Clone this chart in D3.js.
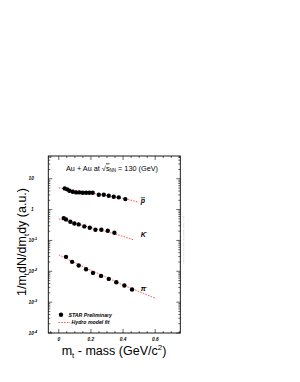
<!DOCTYPE html>
<html><head><meta charset="utf-8">
<script src="https://cdn.jsdelivr.net/npm/d3@7"></script>
<style>body{margin:0;background:#fff}svg{display:block}</style>
</head><body>
<svg id="c" width="300" height="382"></svg>
<script>
// ---- data ----
const pbarX = [0.037,0.052,0.066,0.087,0.108,0.128,0.149,0.170,0.190,0.211,0.249,0.280,0.311,0.342,0.373,0.414];
const pbarY = [4.87,4.53,4.07,3.78,3.61,3.61,3.51,3.51,3.51,3.51,3.03,3.03,2.81,2.61,2.49,2.19];
const kX = [0.031,0.045,0.072,0.097,0.124,0.159,0.193,0.228,0.265,0.305,0.346];
const kY = [0.530,0.481,0.402,0.356,0.331,0.285,0.257,0.221,0.221,0.205,0.177];
const piX = [0.045,0.083,0.124,0.170,0.213,0.263,0.311,0.358,0.408,0.456];
const piY = [0.0294,0.0202,0.0154,0.0117,0.00887,0.00709,0.00567,0.00443,0.00346,0.00257];
const pbarFitX = [0,0.1,0.2,0.3,0.4,0.495];
const pbarFitY = [5.1,4.2,3.45,2.85,2.3,1.75];
const kFitX = [0,0.1,0.2,0.3,0.4,0.464];
const kFitY = [0.50,0.36,0.26,0.19,0.135,0.105];
const piFitX = [0,0.1,0.2,0.3,0.4,0.5,0.605];
const piFitY = [0.034,0.019,0.0108,0.0063,0.0036,0.0022,0.0013];
const xTicks = [0,0.2,0.4,0.6];
const xTickLabels = ["0","0.2","0.4","0.6"];
const yTicks = [10,1,0.1,0.01,0.001,0.0001];
const yTickBase = ["10","1","10","10","10","10"];
const yTickExp = ["","","-1","-2","-3","-4"];
const seriesLabels = [["p","",1.9],["K","-",0.16],["π","-",0.0027]];
const seriesLabelX = 0.51;

// ---- layout ----
const L=48.3,R=180.3,T=156,B=333;
const svg=d3.select("#c");
const x=d3.scaleLinear().domain([-0.065,0.756]).range([L,R]);
const y=d3.scaleLog().domain([1e-4,Math.pow(10,1.737)]).range([B,T]);

// minor y ticks
const minorY=[];
for(let e=-4;e<=1;e++){for(let m=2;m<=9;m++){const v=m*Math.pow(10,e);if(v<=y.domain()[1])minorY.push(v);}}
const minorX=d3.range(-0.05,0.76,0.05).filter(v=>Math.abs(Math.round(v*5)-v*5)>1e-6);

const gAxis=svg.append("g").attr("stroke","#000").attr("stroke-width",0.6);
// left & right ticks
[[L,1],[R,-1]].forEach(([x0,d])=>{
  gAxis.selectAll(null).data(yTicks).enter().append("line")
    .attr("x1",x0).attr("x2",x0+d*4).attr("y1",v=>y(v)).attr("y2",v=>y(v));
  gAxis.selectAll(null).data(minorY).enter().append("line")
    .attr("x1",x0).attr("x2",x0+d*2).attr("y1",v=>y(v)).attr("y2",v=>y(v));
});
[[B,-1],[T,1]].forEach(([y0,d])=>{
  gAxis.selectAll(null).data(xTicks).enter().append("line")
    .attr("y1",y0).attr("y2",y0+d*4).attr("x1",v=>x(v)).attr("x2",v=>x(v));
  gAxis.selectAll(null).data(minorX).enter().append("line")
    .attr("y1",y0).attr("y2",y0+d*2).attr("x1",v=>x(v)).attr("x2",v=>x(v));
});
svg.append("rect").attr("x",L).attr("y",T).attr("width",R-L).attr("height",B-T)
  .attr("fill","none").attr("stroke","#000").attr("stroke-width",0.9);

// tick labels
const tf="Liberation Sans, Arial, sans-serif";
const yl=svg.append("g").attr("font-family",tf).attr("font-size",4.8).attr("font-weight","bold").attr("font-style","italic").attr("fill","#000");
yTicks.forEach((v,i)=>{
  const t=yl.append("text").attr("x",yTickBase[i]==="1"?31:28.5).attr("y",y(v)+1.7);
  t.append("tspan").text(yTickBase[i]);
  if(yTickExp[i]) t.append("tspan").attr("dy",-2.2).attr("font-size",3.8).text(yTickExp[i]);
});
const xl=svg.append("g").attr("font-family",tf).attr("font-size",4.8).attr("font-weight","bold").attr("font-style","italic").attr("text-anchor","middle");
xl.selectAll(null).data(xTicks).enter().append("text").attr("x",v=>x(v)).attr("y",340.5).text((v,i)=>xTickLabels[i]);

// axis titles
const xt=svg.append("text").attr("x",114).attr("y",355).attr("text-anchor","middle")
  .attr("font-family",tf).attr("font-size",12.5);
xt.append("tspan").text("m");
xt.append("tspan").attr("dy",2.5).attr("font-size",8).text("t");
xt.append("tspan").attr("dy",-2.5).text(" - mass (GeV/c");
xt.append("tspan").attr("dy",-5).attr("font-size",8).text("2");
xt.append("tspan").attr("dy",5).text(")");
const yt=svg.append("text").attr("transform","translate(26,242) rotate(-90)").attr("text-anchor","middle")
  .attr("font-family",tf).attr("font-size",12.5);
yt.append("tspan").text("1/m");
yt.append("tspan").attr("dy",2.5).attr("font-size",8).text("t");
yt.append("tspan").attr("dy",-2.5).text("dN/dm");
yt.append("tspan").attr("dy",2.5).attr("font-size",8).text("t");
yt.append("tspan").attr("dy",-2.5).text("dy (a.u.)");

// title
const tt=svg.append("text").attr("x",112).attr("y",170.5).attr("text-anchor","middle")
  .attr("font-family",tf).attr("font-size",7.3);
tt.append("tspan").text("Au + Au at √");
tt.append("tspan").attr("text-decoration","overline").text("s");
tt.append("tspan").attr("dy",1.8).attr("font-size",4.5).text("NN");
tt.append("tspan").attr("dy",-1.8).text(" = 130 (GeV)");

// fits
const line=d3.line().x(d=>x(d[0])).y(d=>y(d[1])).curve(d3.curveMonotoneX);
[[pbarFitX,pbarFitY],[kFitX,kFitY],[piFitX,piFitY]].forEach(([fx,fy])=>{
  svg.append("path").datum(fx.map((v,i)=>[v,fy[i]])).attr("d",line)
    .attr("fill","none").attr("stroke","#ff3030").attr("stroke-width",0.8).attr("stroke-dasharray","1.6,1.2");
});
// points
[[pbarX,pbarY],[kX,kY],[piX,piY]].forEach(([px,py])=>{
  svg.append("g").selectAll("circle").data(px.map((v,i)=>[v,py[i]])).enter().append("circle")
    .attr("cx",d=>x(d[0])).attr("cy",d=>y(d[1])).attr("r",2.2).attr("fill","#000");
});
// series labels
const sl=svg.append("g").attr("font-family",tf).attr("font-size",7).attr("font-weight","bold").attr("font-style","italic");
seriesLabels.forEach(([b,e,v])=>{
  const t=sl.append("text").attr("x",x(seriesLabelX)).attr("y",y(v)+2.5);
  const s=t.append("tspan").text(b);
  if(b==="p") s.attr("text-decoration","overline");
  if(e) t.append("tspan").attr("dy",-2.6).attr("font-size",4.5).text(e);
});

// legend
const lg=svg.append("g").attr("font-family",tf).attr("font-size",5.2).attr("font-weight","bold").attr("font-style","italic");
lg.append("circle").attr("cx",61).attr("cy",314.8).attr("r",2.2).attr("fill","#000");
lg.append("text").attr("x",68.5).attr("y",316.6).text("STAR Preliminary");
lg.append("line").attr("x1",58.5).attr("x2",70).attr("y1",322.5).attr("y2",322.5)
  .attr("stroke","#ff3030").attr("stroke-width",0.8).attr("stroke-dasharray","1.6,1.2");
lg.append("text").attr("x",71.5).attr("y",324.3).text("Hydro model fit");

// tiny side note
svg.append("text").attr("transform","translate(183.5,240) rotate(-90)").attr("text-anchor","middle")
  .attr("font-family",tf).attr("font-size",2.2).attr("fill","#999").text("/star/u/preliminary/spectra_130GeV_hydro_fit.eps");
</script>
</body></html>
